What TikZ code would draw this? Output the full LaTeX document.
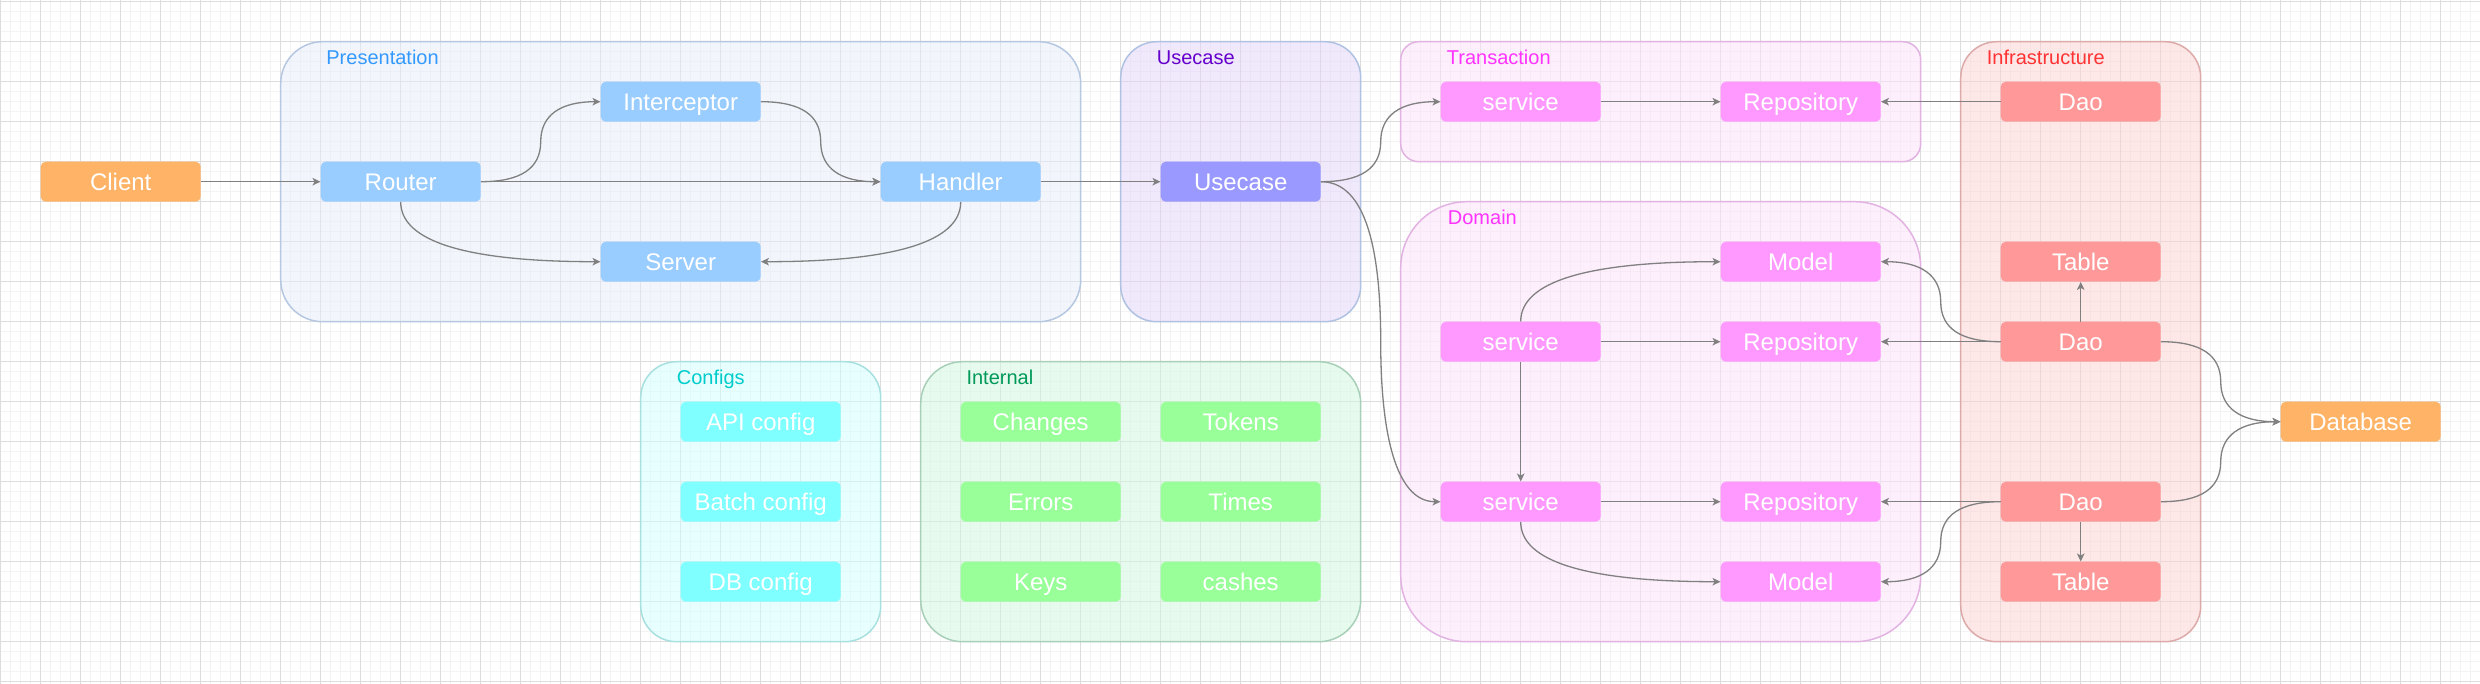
\documentclass[tikz,border=0pt]{standalone}
\usepackage{fontspec}
\setmainfont{Liberation Sans}
\usetikzlibrary{arrows.meta,calc}
\definecolor{gridminor}{HTML}{F3F3F3}
\definecolor{gridmajor}{HTML}{DDDDDD}
\definecolor{edgec}{HTML}{808080}
\definecolor{cOrange}{HTML}{FFB366}
\definecolor{cBlue}{HTML}{99CCFF}
\definecolor{cViolet}{HTML}{9999FF}
\definecolor{cPink}{HTML}{FF99FF}
\definecolor{cRed}{HTML}{FF9999}
\definecolor{cCyan}{HTML}{7FFFFF}
\definecolor{cGreen}{HTML}{99FF99}
\definecolor{presF}{HTML}{E6EEFA}
\definecolor{presB}{HTML}{B6C7E1}
\definecolor{useF}{HTML}{E3D3F9}
\definecolor{useB}{HTML}{B0C2E2}
\definecolor{pinkF}{HTML}{FDE1FB}
\definecolor{pinkB}{HTML}{E2B2E2}
\definecolor{redF}{HTML}{FDD1D1}
\definecolor{redB}{HTML}{DDAAAA}
\definecolor{cyanF}{HTML}{D1FFFF}
\definecolor{cyanB}{HTML}{A8E0E0}
\definecolor{greenF}{HTML}{D1F7DF}
\definecolor{greenB}{HTML}{A8D0B8}
\definecolor{lPres}{HTML}{3399FF}
\definecolor{lUse}{HTML}{6600CC}
\definecolor{lPink}{HTML}{FF33FF}
\definecolor{lRed}{HTML}{FF3333}
\definecolor{lCyan}{HTML}{00CCCC}
\definecolor{lGreen}{HTML}{009959}
\tikzset{
  box/.style={rectangle, rounded corners=5pt, minimum width=160pt, minimum height=40pt,
    inner sep=0pt, text=white, font=\fontsize{24}{28}\selectfont, text height=17.2pt, text depth=0pt},
  cont/.style={rectangle, inner sep=0pt, line width=1.5pt, fill opacity=0.5},
  lbl/.style={anchor=base west, inner sep=0pt, font=\fontsize{20}{24}\selectfont},
  conn/.style={draw=edgec, line width=1.3pt, -{Stealth[length=8pt,width=7.5pt,inset=2pt]}},
  hvh/.style={to path={let \p1=(\tikztostart), \p2=(\tikztotarget), \p3=($(\p1)!0.5!(\p2)$) in
    .. controls ($(\p1)!2/3!(\x3,\y1)$) and ($(\p3)!2/3!(\x3,\y1)$) .. (\p3)
    .. controls ($(\p3)!2/3!(\x3,\y2)$) and ($(\p2)!2/3!(\x3,\y2)$) .. (\p2) \tikztonodes}},
  vh/.style={to path={let \p1=(\tikztostart), \p2=(\tikztotarget) in
    .. controls ($(\p1)!2/3!(\x1,\y2)$) and ($(\p2)!2/3!(\x1,\y2)$) .. (\p2) \tikztonodes}}
}
\begin{document}
\begin{tikzpicture}[x=1pt,y=-1pt]
\useasboundingbox (0,0) rectangle (2480,683);
\fill[white] (0,0) rectangle (2480,683);
\begin{scope}[shift={(0.7,1.7)}]
% grid
\foreach \i in {0,...,248} {\draw[gridminor, line width=1pt] (\i*10,-2) -- (\i*10,684);}
\foreach \j in {0,...,68} {\draw[gridminor, line width=1pt] (-1,\j*10) -- (2481,\j*10);}
\foreach \i in {0,...,62} {\draw[gridmajor, line width=1pt] (\i*40,-2) -- (\i*40,684);}
\foreach \j in {0,...,17} {\draw[gridmajor, line width=1pt] (-1,\j*40) -- (2481,\j*40);}
% containers
\node[cont, draw=presB, fill=presF, rounded corners=42pt, minimum width=800pt, minimum height=280pt] (presentation) at (680,180) {};
\node[cont, draw=useB, fill=useF, rounded corners=36pt, minimum width=240pt, minimum height=280pt] (usecasebox) at (1240,180) {};
\node[cont, draw=pinkB, fill=pinkF, rounded corners=18pt, minimum width=520pt, minimum height=120pt] (transaction) at (1660,100) {};
\node[cont, draw=pinkB, fill=pinkF, rounded corners=66pt, minimum width=520pt, minimum height=440pt] (domain) at (1660,420) {};
\node[cont, draw=redB, fill=redF, rounded corners=36pt, minimum width=240pt, minimum height=600pt] (infra) at (2080,340) {};
\node[cont, draw=cyanB, fill=cyanF, rounded corners=36pt, minimum width=240pt, minimum height=280pt] (configs) at (760,500) {};
\node[cont, draw=greenB, fill=greenF, rounded corners=42pt, minimum width=440pt, minimum height=280pt] (internal) at (1140,500) {};
% container labels
\node[lbl, text=lPres] (lpres) at (325.5,62.3) {Presentation};
\node[lbl, text=lUse] (luse) at (1156,62.3) {Usecase};
\node[lbl, text=lPink] (ltrans) at (1446,62.3) {Transaction};
\node[lbl, text=lRed] (linfra) at (1986,62.3) {Infrastructure};
\node[lbl, text=lPink] (ldomain) at (1447,222.3) {Domain};
\node[lbl, text=lCyan] (lconfigs) at (676,382.3) {Configs};
\node[lbl, text=lGreen] (linternal) at (965.6,382.3) {Internal};
% nodes
\node[box, fill=cOrange] (client) at (120,180) {Client};
\node[box, fill=cBlue] (router) at (400,180) {Router};
\node[box, fill=cBlue] (interceptor) at (680,100) {Interceptor};
\node[box, fill=cBlue] (handler) at (960,180) {Handler};
\node[box, fill=cBlue] (server) at (680,260) {Server};
\node[box, fill=cViolet] (usecase) at (1240,180) {Usecase};
\node[box, fill=cPink] (tservice) at (1520,100) {service};
\node[box, fill=cPink] (trepo) at (1800,100) {Repository};
\node[box, fill=cRed] (dao1) at (2080,100) {Dao};
\node[box, fill=cPink] (model1) at (1800,260) {Model};
\node[box, fill=cRed] (table1) at (2080,260) {Table};
\node[box, fill=cPink] (dservice1) at (1520,340) {service};
\node[box, fill=cPink] (drepo1) at (1800,340) {Repository};
\node[box, fill=cRed] (dao2) at (2080,340) {Dao};
\node[box, fill=cOrange] (database) at (2360,420) {Database};
\node[box, fill=cPink] (dservice2) at (1520,500) {service};
\node[box, fill=cPink] (drepo2) at (1800,500) {Repository};
\node[box, fill=cRed] (dao3) at (2080,500) {Dao};
\node[box, fill=cPink] (model2) at (1800,580) {Model};
\node[box, fill=cRed] (table2) at (2080,580) {Table};
\node[box, fill=cCyan] (apiconfig) at (760,420) {API config};
\node[box, fill=cCyan] (batchconfig) at (760,500) {Batch config};
\node[box, fill=cCyan] (dbconfig) at (760,580) {DB config};
\node[box, fill=cGreen] (changes) at (1040,420) {Changes};
\node[box, fill=cGreen] (tokens) at (1240,420) {Tokens};
\node[box, fill=cGreen] (errors) at (1040,500) {Errors};
\node[box, fill=cGreen] (times) at (1240,500) {Times};
\node[box, fill=cGreen] (keys) at (1040,580) {Keys};
\node[box, fill=cGreen] (cashes) at (1240,580) {cashes};
% connectors
\draw[conn] (client.east) -- (router.west);
\draw[conn] (router.east) to[hvh] (interceptor.west);
\draw[conn] (router.east) -- (handler.west);
\draw[conn] (interceptor.east) to[hvh] (handler.west);
\draw[conn] (router.south) to[vh] (server.west);
\draw[conn] (handler.south) to[vh] (server.east);
\draw[conn] (handler.east) -- (usecase.west);
\draw[conn] (usecase.east) to[hvh] (tservice.west);
\draw[conn] (usecase.east) to[hvh] (dservice2.west);
\draw[conn] (tservice.east) -- (trepo.west);
\draw[conn] (dao1.west) -- (trepo.east);
\draw[conn] (dservice1.north) to[vh] (model1.west);
\draw[conn] (dservice1.east) -- (drepo1.west);
\draw[conn] (dservice1.south) -- (dservice2.north);
\draw[conn] (dao2.west) -- (drepo1.east);
\draw[conn] (dao2.west) to[hvh] (model1.east);
\draw[conn] (dao2.north) -- (table1.south);
\draw[conn] (dao2.east) to[hvh] (database.west);
\draw[conn] (dao3.east) to[hvh] (database.west);
\draw[conn] (dservice2.east) -- (drepo2.west);
\draw[conn] (dao3.west) -- (drepo2.east);
\draw[conn] (dao3.west) to[hvh] (model2.east);
\draw[conn] (dao3.south) -- (table2.north);
\draw[conn] (dservice2.south) to[vh] (model2.west);
\end{scope}
\end{tikzpicture}
\end{document}
